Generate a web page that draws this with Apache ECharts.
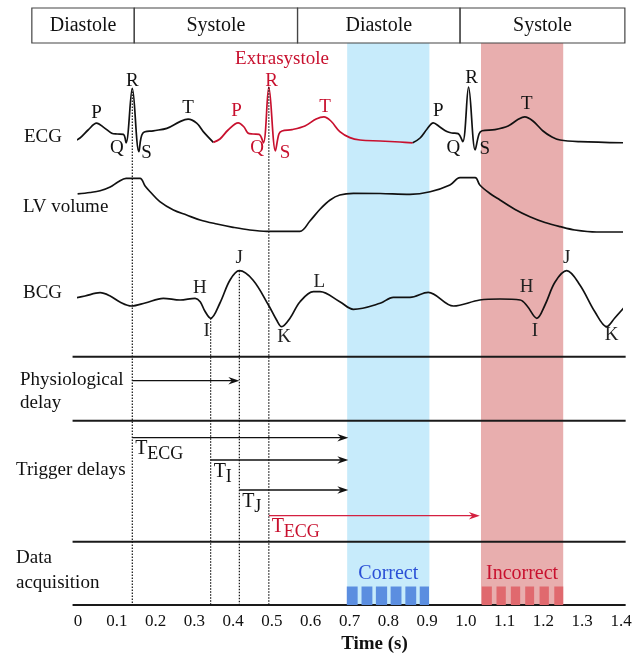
<!DOCTYPE html>
<html><head><meta charset="utf-8">
<script src="https://cdn.jsdelivr.net/npm/echarts@6/dist/echarts.min.js"></script>
<style>html,body{margin:0;padding:0;background:#fff;overflow:hidden}#c{width:641px;height:654px}</style>
</head><body><div id="c"></div>
<script>
// ---------------- DATA ----------------
const timeMin = 0, timeMax = 1.4, timeStep = 0.1;

const phaseNames = ['Diastole', 'Systole', 'Diastole', 'Systole'];
const phaseEdges = [-0.119, 0.145, 0.566, 0.985, 1.41];

// ECG [time s, amplitude mV]
const ecgBeat1 = [
  [-0.012, 0.01], [0.005, 0.10], [0.026, 0.30], [0.048, 0.47], [0.067, 0.36], [0.087, 0.22],
  [0.101, 0.20], [0.117, 0.19], [0.124, -0.02], [0.140, 1.34], [0.157, -0.24], [0.167, 0.22],
  [0.194, 0.28], [0.229, 0.34], [0.263, 0.51], [0.284, 0.57], [0.306, 0.47], [0.323, 0.26], [0.349, -0.01]
];
const ecgExtrasystole = [
  [0.349, -0.01], [0.366, 0.075], [0.387, 0.30], [0.413, 0.48], [0.428, 0.375], [0.438, 0.225],
  [0.451, 0.20], [0.467, 0.19], [0.478, -0.02], [0.492, 1.37], [0.509, -0.22], [0.518, 0.20],
  [0.526, 0.275], [0.552, 0.31], [0.585, 0.40], [0.614, 0.575], [0.634, 0.63], [0.652, 0.525],
  [0.675, 0.26], [0.701, 0.11], [0.727, 0.05], [0.779, 0.025], [0.830, 0.0], [0.863, -0.02]
];
const ecgBeat2 = [
  [0.863, -0.02], [0.882, 0.10], [0.900, 0.325], [0.916, 0.48], [0.933, 0.375], [0.951, 0.26],
  [0.964, 0.225], [0.980, 0.21], [0.992, 0.01], [1.007, 1.37], [1.024, -0.20], [1.034, 0.20],
  [1.042, 0.28], [1.075, 0.31], [1.109, 0.40], [1.134, 0.56], [1.152, 0.63], [1.173, 0.525],
  [1.199, 0.275], [1.222, 0.125], [1.243, 0.05], [1.294, 0.01], [1.410, -0.02]
];
// LV volume [time s, mL]
const lvVolume = [
  [-0.001, 99.3], [0.031, 101.2], [0.057, 103.5], [0.083, 108.3], [0.103, 114.8], [0.124, 119.6],
  [0.160, 119.6], [0.173, 109.6], [0.186, 102.2], [0.211, 89.3], [0.246, 78.5], [0.280, 72.0],
  [0.315, 65.6], [0.358, 60.4], [0.400, 56.1], [0.443, 52.6], [0.487, 50.9], [0.572, 50.9],
  [0.598, 64.3], [0.624, 79.5], [0.650, 91.5], [0.675, 98.0], [0.710, 100.2], [0.779, 99.9],
  [0.856, 98.9], [0.908, 102.2], [0.959, 110.9], [0.985, 120.4], [1.024, 120.4], [1.036, 110.9],
  [1.062, 99.9], [1.088, 91.5], [1.127, 79.2], [1.165, 69.8], [1.204, 62.3], [1.243, 56.9],
  [1.281, 52.6], [1.337, 50.0], [1.410, 50.0]
];
// BCG [time s, a.u.]
const bcgSignal = [
  [-0.010, 0.17], [0.018, 0.40], [0.057, 0.73], [0.083, 0.40], [0.108, -0.20], [0.138, -0.60],
  [0.173, -0.30], [0.220, 0.17], [0.263, 0.0], [0.302, 0.17], [0.315, -0.17], [0.327, -1.10],
  [0.342, -1.83], [0.366, -0.30], [0.392, 2.00], [0.416, 2.93], [0.451, 2.00], [0.491, -0.50],
  [0.512, -2.00], [0.525, -2.67], [0.547, -1.80], [0.572, -0.20], [0.607, 0.83], [0.624, 0.83],
  [0.675, -0.17], [0.710, -0.93], [0.779, -0.33], [0.813, 0.27], [0.856, 0.27], [0.903, 0.77],
  [0.968, -0.60], [1.036, 0.0], [1.088, 0.10], [1.140, 0.0], [1.158, -0.60], [1.183, -1.83],
  [1.204, -0.50], [1.230, 1.80], [1.260, 2.93], [1.294, 1.50], [1.333, -1.20], [1.363, -2.67],
  [1.384, -1.80], [1.410, -0.67]
];

// wave labels [text, time, value]
const ecgLabels1 = [['P', 0.048, 0.72], ['Q', 0.100, -0.16], ['R', 0.140, 1.53], ['S', 0.177, -0.27], ['T', 0.284, 0.84]];
const ecgLabelsExtra = [['P', 0.409, 0.78], ['Q', 0.462, -0.16], ['R', 0.499, 1.53], ['S', 0.534, -0.27], ['T', 0.637, 0.88]];
const ecgLabels2 = [['P', 0.929, 0.78], ['Q', 0.968, -0.16], ['R', 1.015, 1.59], ['S', 1.049, -0.18], ['T', 1.157, 0.94]];
const extrasystoleLabel = ['Extrasystole', 0.526, 2.08];
const bcgLabels = [['H', 0.3145, 1.17], ['I', 0.3318, -3.07], ['J', 0.4158, 4.17], ['K', 0.5311, -3.67], ['L', 0.6221, 1.83],
                   ['H', 1.1567, 1.27], ['I', 1.1781, -3.07], ['J', 1.2598, 4.17], ['K', 1.3759, -3.5]];

// acquisition windows (s)
const correctWindow = [0.694, 0.906];
const incorrectWindow = [1.039, 1.251];
const correctBars = [[0.693, 0.721], [0.731, 0.759], [0.768, 0.797], [0.806, 0.834], [0.844, 0.872], [0.881, 0.905]];
const incorrectBars = [[1.041, 1.067], [1.079, 1.103], [1.116, 1.140], [1.153, 1.176], [1.190, 1.214], [1.228, 1.251]];
// trigger delays: [subscript, end time], start time = trigger marker
const triggerEnds = [['ECG', 0.697], ['I', 0.697], ['J', 0.697], ['ECG', 1.036]];

// ---------------- LAYOUT / STYLE ----------------
const FONT = '"Liberation Serif", "DejaVu Serif", serif';
const RED = '#c8102e', INK = '#111';
const L = {
  boxTop: 8, boxBottom: 43, ecgBase: 142, ecgGain: 40, lvBase: 232, lvRef: 50, lvGain: 0.7714,
  bcgBase: 300, bcgGain: 10, seps: [356.7, 420.7, 541.7, 605], axisY: 605, lineStart: -0.014, lineEnd: 1.412,
  physioY: 380.7, trigY: [437.7, 460, 490, 515.7], barTop: 586.5, bandText: 574
};
const ecgY = a => L.ecgBase - a * L.ecgGain;
const lvY = v => L.lvBase - (v - L.lvRef) * L.lvGain;
const bcgY = a => L.bcgBase - a * L.bcgGain;

const argExt = (arr, fn) => arr.reduce((b, p) => (fn(p[1], b[1]) ? p : b));
const tR1 = argExt(ecgBeat1, (a, b) => a > b);
const tR2 = argExt(ecgExtrasystole, (a, b) => a > b);
const firstBcg = bcgSignal.filter(p => p[0] < 0.5);
const tI = argExt(firstBcg, (a, b) => a < b);
const tJ = argExt(firstBcg, (a, b) => a > b);
const triggerStarts = [tR1[0], tI[0], tJ[0], tR2[0]];

// ---------------- HELPERS ----------------
function txt(x, y, s, o) {
  o = o || {};
  return { type: 'text', style: { x, y, text: s, fill: o.color || INK, fontSize: o.size || 19, fontFamily: FONT,
    fontWeight: o.weight || 'normal', align: o.align || 'center', verticalAlign: 'middle',
    textAlign: o.align || 'center', textVerticalAlign: 'middle' } };
}
function overlay(z, draw) {
  return { type: 'custom', coordinateSystem: 'cartesian2d', data: [[0, 0]], z, clip: false, silent: true,
    renderItem: (p, api) => ({ type: 'group', children: draw(api) }) };
}
function hline(api, t0, t1, y, color, w, dash) {
  const a = api.coord([t0, y]), b = api.coord([t1, y]);
  return { type: 'line', shape: { x1: a[0], y1: a[1], x2: b[0], y2: b[1] }, style: { stroke: color, lineWidth: w, lineDash: dash || null } };
}
function arrow(api, t0, t1, y, color) {
  const a = api.coord([t0, y]), b = api.coord([t1, y]);
  return [
    { type: 'line', shape: { x1: a[0], y1: a[1], x2: b[0] - 5, y2: b[1] }, style: { stroke: color, lineWidth: 1.3 } },
    { type: 'polygon', shape: { points: [[b[0], b[1]], [b[0] - 11, b[1] - 3.8], [b[0] - 7.5, b[1]], [b[0] - 11, b[1] + 3.8]] }, style: { fill: color } }
  ];
}
function lineSeries(data, mapY, color) {
  return { type: 'line', data: data.map(p => [p[0], mapY(p[1])]), smooth: 0.35, showSymbol: false, clip: false,
    silent: true, z: 5, lineStyle: { color, width: 1.7 } };
}

// ---------------- SERIES ----------------
const series = [];
series.push(overlay(1, api => {
  const out = [];
  [[correctWindow, '#c7ebfb'], [incorrectWindow, '#e8aeae']].forEach(([w, c]) => {
    const a = api.coord([w[0], L.boxBottom]), b = api.coord([w[1], L.axisY]);
    out.push({ type: 'rect', shape: { x: a[0], y: a[1], width: b[0] - a[0], height: b[1] - a[1] }, style: { fill: c } });
  });
  return out;
}));
series.push(overlay(6, api => {
  const out = [];
  for (let i = 0; i < phaseNames.length; i++) {
    const a = api.coord([phaseEdges[i], L.boxTop]), b = api.coord([phaseEdges[i + 1], L.boxBottom]);
    out.push({ type: 'rect', shape: { x: a[0], y: a[1], width: b[0] - a[0], height: b[1] - a[1] }, style: { fill: 'none', stroke: '#444', lineWidth: 1.2 } });
    out.push(txt((a[0] + b[0]) / 2, (a[1] + b[1]) / 2, phaseNames[i], { size: 20 }));
  }
  return out;
}));
series.push(lineSeries(ecgBeat1, ecgY, INK));
series.push(lineSeries(ecgExtrasystole, ecgY, RED));
series.push(lineSeries(ecgBeat2, ecgY, INK));
series.push(lineSeries(lvVolume, lvY, INK));
series.push(lineSeries(bcgSignal, bcgY, INK));
series.push(overlay(7, api => {
  const out = [];
  L.seps.forEach(y => out.push(hline(api, L.lineStart, L.lineEnd, y, '#1a1a1a', 2)));
  [[tR1[0], ecgY(tR1[1])], [tI[0], bcgY(tI[1])], [tJ[0], bcgY(tJ[1])], [tR2[0], ecgY(tR2[1])]].forEach(([t, y0]) => {
    const a = api.coord([t, y0]), b = api.coord([t, L.axisY]);
    out.push({ type: 'line', shape: { x1: a[0], y1: a[1], x2: b[0], y2: b[1] }, style: { stroke: INK, lineWidth: 1.2, lineDash: [1.5, 1.5] } });
  });
  out.push(...arrow(api, tR1[0], tJ[0], L.physioY, INK));
  triggerEnds.forEach(([sub, tEnd], i) => {
    const col = i === 3 ? '#d42040' : INK;
    out.push(...arrow(api, triggerStarts[i], tEnd, L.trigY[i], col));
    const p = api.coord([triggerStarts[i], L.trigY[i]]);
    const tc = i === 3 ? RED : INK;
    out.push(txt(p[0] + 3, p[1] + 11.5, 'T', { align: 'left', size: 20, color: tc }));
    out.push(txt(p[0] + 15, p[1] + 17, sub, { align: 'left', size: 18, color: tc }));
  });
  [[correctBars, '#5b8ee0'], [incorrectBars, '#e0696e']].forEach(([bars, c]) => bars.forEach(([s, e]) => {
    const a = api.coord([s, L.barTop]), b = api.coord([e, L.axisY]);
    out.push({ type: 'rect', shape: { x: a[0], y: a[1], width: b[0] - a[0], height: b[1] - a[1] }, style: { fill: c } });
  }));
  const c1 = api.coord([(correctWindow[0] + correctWindow[1]) / 2, L.bandText]);
  out.push(txt(c1[0], c1[1], 'Correct', { size: 20, color: '#2a4fd6' }));
  const c2 = api.coord([(incorrectWindow[0] + incorrectWindow[1]) / 2, L.bandText]);
  out.push(txt(c2[0], c2[1], 'Incorrect', { size: 20, color: RED }));
  const put = (arr, mapY, color) => arr.forEach(([s, t, v]) => {
    const p = api.coord([t, mapY(v)]);
    out.push(txt(p[0], p[1], s, { size: 19, color }));
  });
  put(ecgLabels1, ecgY, INK);
  put(ecgLabelsExtra, ecgY, RED);
  put(ecgLabels2, ecgY, INK);
  put([extrasystoleLabel], ecgY, RED);
  put(bcgLabels, bcgY, '#222');
  return out;
}));

const rowLabel = (x, y, text) => ({ type: 'text', x, y, style: { text, fill: INK, fontSize: 19, fontFamily: FONT, verticalAlign: 'middle', textVerticalAlign: 'middle' } });

const chart = echarts.init(document.getElementById('c'), null, { renderer: 'canvas', width: 641, height: 654 });
chart.setOption({
  animation: false,
  backgroundColor: '#fff',
  grid: { left: 78, top: 0, width: 543, height: 605, outerBoundsMode: 'none', containLabel: false },
  xAxis: {
    type: 'value', min: timeMin, max: timeMax, interval: timeStep,
    axisLine: { show: false },
    axisTick: { inside: true, length: 4, lineStyle: { color: INK, width: 1.2 } },
    splitLine: { show: false },
    axisLabel: { color: INK, fontSize: 17, fontFamily: FONT, margin: 8, formatter: v => (Math.abs(v) < 1e-9 ? '0' : v.toFixed(1)) },
    name: 'Time (s)', nameLocation: 'middle', nameGap: 29,
    nameTextStyle: { color: INK, fontSize: 19, fontWeight: 'bold', fontFamily: FONT, padding: [0, 0, 0, 50] }
  },
  yAxis: { type: 'value', min: 0, max: 605, inverse: true, show: false },
  graphic: [
    rowLabel(24, 136.7, 'ECG'),
    rowLabel(23, 206.7, 'LV volume'),
    rowLabel(23, 293.3, 'BCG'),
    rowLabel(20, 380, 'Physiological'),
    rowLabel(20, 403.3, 'delay'),
    rowLabel(16, 470, 'Trigger delays'),
    rowLabel(16, 558.5, 'Data'),
    rowLabel(16, 583.3, 'acquisition')
  ],
  series
});
</script></body></html>
